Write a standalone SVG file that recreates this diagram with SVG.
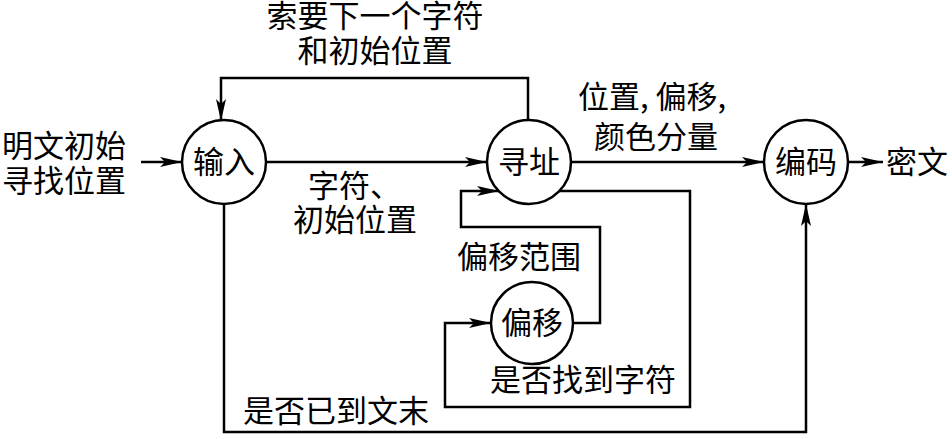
<svg xmlns="http://www.w3.org/2000/svg" width="952" height="439" viewBox="0 0 952 439">
<style>
.node circle{fill:#fff;stroke:#000;stroke-width:2.5}
text{font-family:"Noto Sans CJK SC","Noto Sans",sans-serif;font-size:31px;fill:#000}
.c{text-anchor:middle}
.edges path{fill:none;stroke:#000;stroke-width:2.5}
</style>
<defs>
<marker id="arr" markerUnits="userSpaceOnUse" markerWidth="24" markerHeight="12" refX="22" refY="5" orient="auto">
<path d="M0,0 L22,5 L0,10 L5,5 z" fill="#000"/>
</marker>
</defs>
<g class="edges" id="connectors">
<path d="M141,162 L182,162" marker-end="url(#arr)"/>
<path d="M266,162 L487,162" marker-end="url(#arr)"/>
<path d="M528,120 L528,78 L221,78 L221,121" marker-end="url(#arr)"/>
<path d="M571,162 L764,162" marker-end="url(#arr)"/>
<path d="M848,162 L883,162" marker-end="url(#arr)"/>
<path d="M559,191 L690,191 L690,407 L445,407 L445,323 L491,323" marker-end="url(#arr)"/>
<path d="M573,323 L600,323 L600,227 L461,227 L461,191 L499,191" marker-end="url(#arr)"/>
<path d="M224,204 L224,432 L806,432 L806,204" marker-end="url(#arr)"/>
</g>
<g id="labels">
<text class="c" x="375" y="27">索要下一个字符</text>
<text class="c" x="375" y="62">和初始位置</text>
<text class="c" x="64" y="157">明文初始</text>
<text class="c" x="64" y="192">寻找位置</text>
<text x="308" y="197">字符、</text>
<text class="c" x="355" y="231">初始位置</text>
<text x="578" y="108">位置, 偏移,</text>
<text class="c" x="656" y="148">颜色分量</text>
<text x="886" y="173">密文</text>
<text class="c" x="519" y="268">偏移范围</text>
<text class="c" x="583" y="391">是否找到字符</text>
<text class="c" x="336" y="422">是否已到文末</text>
</g>
<g class="node" id="node-input"><circle cx="224" cy="162" r="42"/><text class="c" x="224" y="173">输入</text></g>
<g class="node" id="node-address"><circle cx="529" cy="162" r="42"/><text class="c" x="529" y="173">寻址</text></g>
<g class="node" id="node-encode"><circle cx="806" cy="162" r="42"/><text class="c" x="806" y="173">编码</text></g>
<g class="node" id="node-offset"><circle cx="532" cy="323" r="41"/><text class="c" x="532" y="334">偏移</text></g>
</svg>
